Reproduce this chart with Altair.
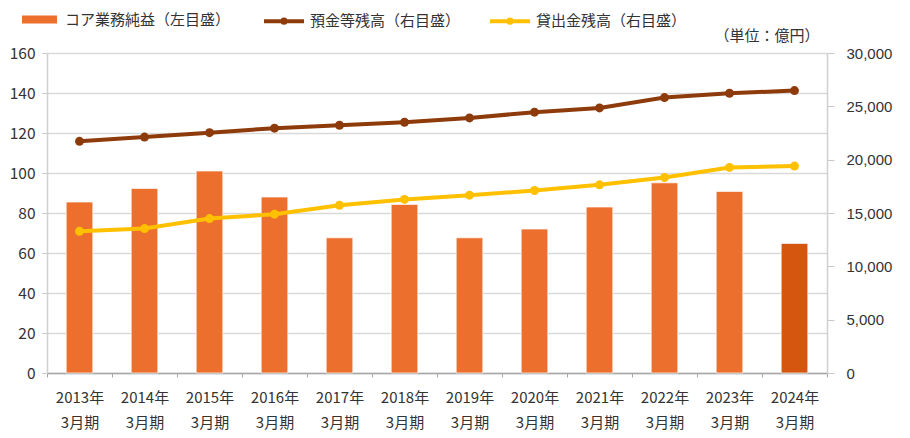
import altair as alt
import pandas as pd

# ---- data ----
periods = ["2013年3月期", "2014年3月期", "2015年3月期", "2016年3月期", "2017年3月期", "2018年3月期",
           "2019年3月期", "2020年3月期", "2021年3月期", "2022年3月期", "2023年3月期", "2024年3月期"]
core_profit = [85.5, 92.3, 101, 88, 67.6, 84.3, 67.6, 72, 83, 95.1, 90.8, 64.8]
deposits = [21720, 22120, 22530, 22950, 23230, 23510, 23910, 24450, 24850, 25820, 26230, 26480]
loans = [13290, 13540, 14480, 14890, 15730, 16270, 16670, 17110, 17640, 18330, 19270, 19400]

left_ticks = [0, 20, 40, 60, 80, 100, 120, 140, 160]
right_ticks = [0, 5000, 10000, 15000, 20000, 25000, 30000]

BAR = "コア業務純益（左目盛）"
LATEST = "最新期"
DEP = "預金等残高（右目盛）"
LOAN = "貸出金残高（右目盛）"
UNIT = "（単位：億円）"

ORANGE = "#ED6F2D"
ORANGE_DARK = "#D4560F"
BROWN = "#8E3B0C"
YELLOW = "#FFC000"

bar_df = pd.DataFrame({
    "period": periods,
    "value": core_profit,
    "key": [BAR] * (len(periods) - 1) + [LATEST],
})
line_df = pd.DataFrame({
    "period": periods * 2,
    "series": [DEP] * len(periods) + [LOAN] * len(periods),
    "value": deposits + loans,
})

JP = "Noto Sans CJK JP"

x_enc = alt.X(
    "period:N", sort=periods,
    scale=alt.Scale(paddingInner=0, paddingOuter=0),
    axis=alt.Axis(
        title=None, tickBand="extent", labelAngle=0,
        labelExpr="isValid(datum.value) ? [substring(datum.value, 0, 5), substring(datum.value, 5)] : ''",
        labelFont=JP, labelFontSize=15, labelColor="#333333", labelLineHeight=25,
        labelPadding=13, tickSize=4, tickColor="#A6A6A6", domainColor="#A6A6A6",
        domainWidth=1.5, labelBaseline="top",
    ),
)

bars = alt.Chart(bar_df).mark_bar(
    width=alt.RelativeBandSize(0.41), stroke="white", strokeWidth=1, strokeOpacity=0.7
).encode(
    x=x_enc,
    y=alt.Y("value:Q", scale=alt.Scale(domain=[0, 160]),
            axis=alt.Axis(title=None, values=left_ticks, grid=True, gridColor="#D9D9D9", gridWidth=1.4,
                          labelFont=JP, labelFontSize=15.5, labelColor="#333333", labelPadding=7,
                          tickSize=5, tickColor="#C8C8C8", domainColor="#D0D0D0", domainWidth=1.5)),
    fill=alt.Fill("key:N", scale=alt.Scale(domain=[BAR, LATEST], range=[ORANGE, ORANGE_DARK]),
                  legend=alt.Legend(values=[BAR], title=None, orient="none", legendX=-25, legendY=-51,
                                    symbolType="M-1,-0.23H1V0.23H-1Z", symbolSize=1225,
                                    symbolStrokeWidth=0, labelOffset=8, padding=0, labelLimit=400,
                                    labelFont=JP, labelFontSize=15, labelColor="#333333")),
)

y_right = alt.Y("value:Q", scale=alt.Scale(domain=[0, 30000]),
                axis=alt.Axis(orient="right", values=right_ticks, grid=False,
                              labelExpr="format(datum.value, ',')",
                              title=UNIT, titleAngle=0, titleAlign="right", titleBaseline="middle",
                              titleX=-8, titleY=-18, titleFont=JP, titleFontSize=15,
                              titleFontWeight="normal", titleColor="#333333",
                              labelFont="Liberation Sans", labelFontSize=15, labelColor="#333333",
                              labelPadding=12, tickSize=7, tickColor="#C8C8C8",
                              domainColor="#D0D0D0", domainWidth=1.5))

lines = alt.Chart(line_df).mark_line(strokeWidth=4).encode(
    x=alt.X("period:N", sort=periods),
    y=y_right,
    stroke=alt.Stroke("series:N", scale=alt.Scale(domain=[DEP, LOAN], range=[BROWN, YELLOW]),
                      legend=alt.Legend(title=None, orient="none", direction="horizontal",
                                        legendX=215, legendY=-54,
                                        symbolType="M-1,0H1M0.08,0A0.08,0.08,0,1,1,-0.08,0A0.08,0.08,0,1,1,0.08,0",
                                        symbolSize=1600, symbolStrokeWidth=4, labelOffset=4,
                                        columnPadding=21, padding=0, labelLimit=400,
                                        labelFont=JP, labelFontSize=15, labelColor="#333333")),
)

points = alt.Chart(line_df).mark_circle(size=80, opacity=1).encode(
    x=alt.X("period:N", sort=periods),
    y=y_right,
    color=alt.Color("series:N", scale=alt.Scale(domain=[DEP, LOAN], range=[BROWN, YELLOW]), legend=None),
)

chart = alt.layer(bars, alt.layer(lines, points)).resolve_scale(
    y="independent"
).properties(
    width=780, height=320,
    padding={"left": 39, "top": 45, "right": 68, "bottom": 58},
    autosize=alt.AutoSizeParams(type="none"),
).configure_view(
    fill="#EDEDED", strokeWidth=0
).configure(background="white")

chart.save("out.html", embed_options={"renderer": "svg", "actions": False})
